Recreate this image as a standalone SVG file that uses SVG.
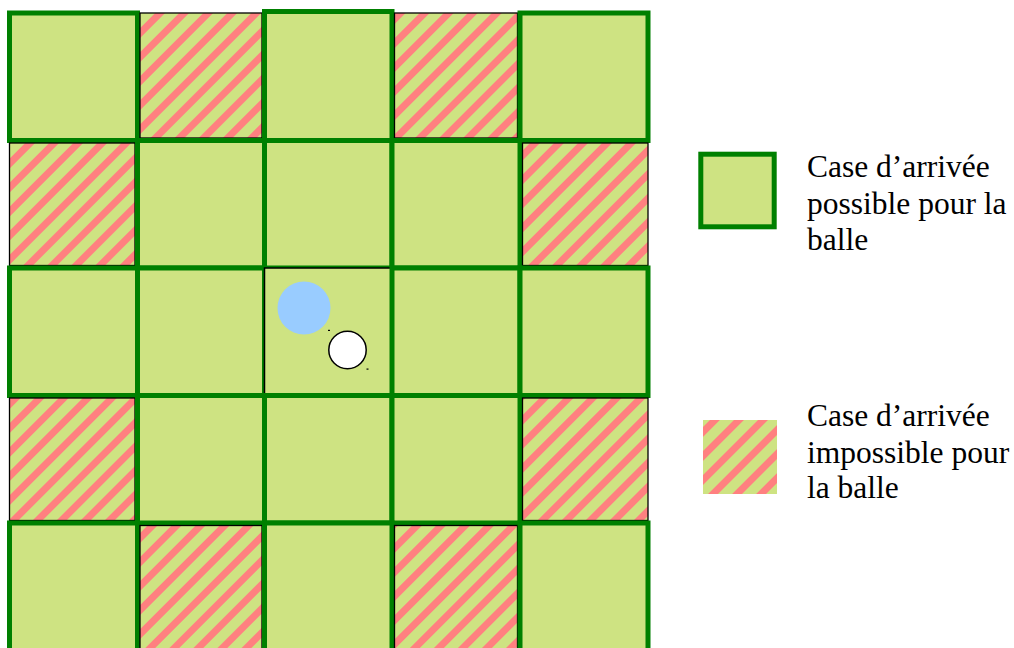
<svg xmlns="http://www.w3.org/2000/svg" width="1014" height="648" viewBox="0 0 1014 648">
<style>
.ok{fill:#cee382;stroke:#008000;stroke-width:5}
.no{fill:url(#hatch);stroke:#000;stroke-width:1.3}
.ctr{fill:#cee382;stroke:#000;stroke-width:1.5}
.lbl{font-family:"Liberation Serif","Times New Roman",serif;font-size:31.5px;fill:#000}
</style>
<defs>
<pattern id="hatch" patternUnits="userSpaceOnUse" width="17" height="17" patternTransform="rotate(45)">
<rect width="17" height="17" fill="#cee382"/>
<rect width="6.8" height="17" fill="#ff8080" shape-rendering="crispEdges"/>
</pattern>
</defs>
<rect width="1014" height="648" fill="#fff"/>
<g id="grid">
<g id="r0c0"><rect class="ok" x="9.5" y="13" width="128" height="127.5"/></g>
<g id="r0c1"><rect class="no" x="140" y="13" width="122" height="125"/></g>
<g id="r0c2"><rect class="ok" x="264.5" y="11.5" width="127.5" height="129"/></g>
<g id="r0c3"><rect class="no" x="394.5" y="13" width="123" height="125"/></g>
<g id="r0c4"><rect class="ok" x="520" y="13" width="128" height="127.5"/></g>

<g id="r1c0"><rect class="no" x="9.5" y="143" width="125.5" height="122.5"/></g>
<g id="r1c1"><rect class="ok" x="137.5" y="140.5" width="127" height="127.5"/></g>
<g id="r1c2"><rect class="ok" x="264.5" y="140.5" width="127.5" height="127.5"/></g>
<g id="r1c3"><rect class="ok" x="392" y="140.5" width="128" height="127.5"/></g>
<g id="r1c4"><rect class="no" x="522.5" y="143" width="125.5" height="122.5"/></g>

<g id="r2c0"><rect class="ok" x="9.5" y="268" width="128" height="127.5"/></g>
<g id="r2c1"><rect class="ok" x="137.5" y="268" width="127" height="127.5"/></g>
<g id="r2c2"><rect class="ctr" x="264.5" y="268" width="127.5" height="127.5"/></g>
<g id="r2c3"><rect class="ok" x="392" y="268" width="128" height="127.5"/></g>
<g id="r2c4"><rect class="ok" x="520" y="268" width="128" height="127.5"/></g>

<g id="r3c0"><rect class="no" x="9.5" y="398" width="125.5" height="122.5"/></g>
<g id="r3c1"><rect class="ok" x="137.5" y="395.5" width="127" height="127.5"/></g>
<g id="r3c2"><rect class="ok" x="264.5" y="395.5" width="127.5" height="127.5"/></g>
<g id="r3c3"><rect class="ok" x="392" y="395.5" width="128" height="127.5"/></g>
<g id="r3c4"><rect class="no" x="522.5" y="398" width="125.5" height="122.5"/></g>

<g id="r4c0"><rect class="ok" x="9.5" y="523" width="128" height="135"/></g>
<g id="r4c1"><rect class="no" x="140" y="525.5" width="122" height="130"/></g>
<g id="r4c2"><rect class="ok" x="264.5" y="523" width="127.5" height="135"/></g>
<g id="r4c3"><rect class="no" x="394.5" y="525.5" width="123" height="130"/></g>
<g id="r4c4"><rect class="ok" x="520" y="523" width="128" height="135"/></g>
</g>
<g id="balls">
<circle id="blue-ball" cx="304" cy="308" r="26.5" fill="#99ccff"/>
<circle id="white-ball" cx="347.5" cy="350" r="18.7" fill="#fff" stroke="#000" stroke-width="1.5"/>
<rect x="328" y="329.8" width="2" height="1.2" fill="#000"/>
<rect x="366.5" y="368.5" width="2" height="1.2" fill="#000"/>
</g>
<g id="legend-possible">
<rect class="ok" x="700.8" y="154.2" width="73.4" height="72.6"/>
<text class="lbl" x="807" y="177">Case d’arrivée</text>
<text class="lbl" x="807" y="213.5">possible pour la</text>
<text class="lbl" x="807" y="250">balle</text>
</g>
<g id="legend-impossible">
<rect x="703" y="420" width="74" height="74" fill="url(#hatch)"/>
<text class="lbl" x="807" y="426">Case d’arrivée</text>
<text class="lbl" x="807" y="462.5">impossible pour</text>
<text class="lbl" x="807" y="498">la balle</text>
</g>
</svg>
